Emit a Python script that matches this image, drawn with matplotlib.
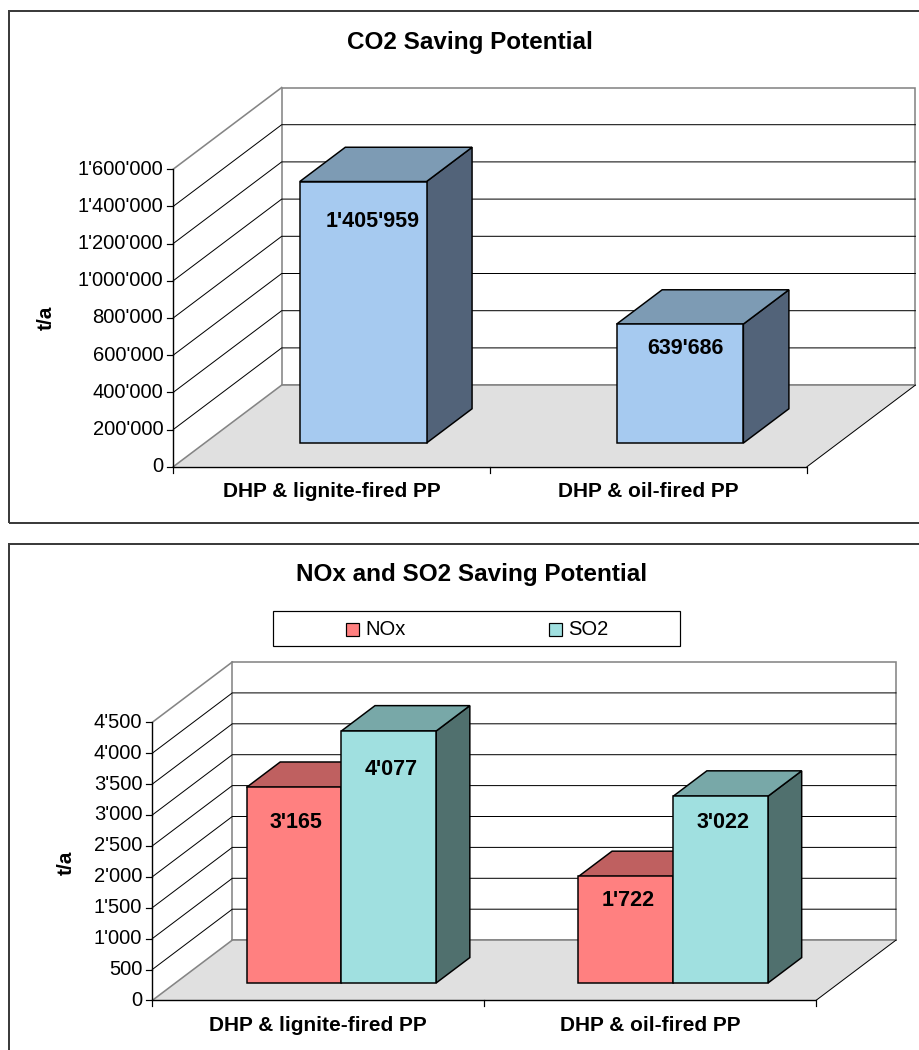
import matplotlib
matplotlib.use("Agg")
import matplotlib.pyplot as plt
from matplotlib.patches import Polygon, Rectangle

plt.rcParams['font.family'] = ['Liberation Sans', 'DejaVu Sans']

W, H = 920, 1050

# ---- data ----
categories = ["DHP & lignite-fired PP", "DHP & oil-fired PP"]
co2_values = [1405959, 639686]
nox_values = [3165, 1722]
so2_values = [4077, 3022]
pollutant_names = ["NOx", "SO2"]
co2_ticks = list(range(0, 1_600_001, 200_000))
pollutant_ticks = list(range(0, 4_501, 500))

# ---- styling ----
CO2_FACES = [("#A6CAF0", "#7D9BB4", "#526379")]
POLL_FACES = [("#FF8080", "#BF6060", "#8C4A4A"),
              ("#A0E0E0", "#78A8A8", "#50706E")]
WALL_EDGE = "#858585"
FLOOR = "#E0E0E0"
PX = 0.72  # points per pixel at dpi 100


def fmt(v):
    return f"{v:,}".replace(",", "'")


fig = plt.figure(figsize=(W / 100, H / 100), dpi=100)


def fig_xy(px, py):
    return px / W, 1 - py / H


def make_axes(box, front_left, front_right, zero_y, px_per_unit, ncat):
    left, top, right, bottom = box
    ax = fig.add_axes([left / W, 1 - bottom / H, (right - left) / W, (bottom - top) / H])
    sx = (front_right - front_left) / ncat
    ax.set_xlim((left - front_left) / sx, (right - front_left) / sx)
    ax.set_ylim((zero_y - bottom) / px_per_unit, (zero_y - top) / px_per_unit)
    ax.axis('off')
    ax.set_zorder(2)
    return ax, sx


def draw_chart(ax, sx, ppu, depth_px, ticks, series, faces, drops, label_dx):
    ncat = len(categories)
    ddx = depth_px[0] / sx
    ddy = depth_px[1] / ppu
    ymax = ticks[-1]

    # back wall and floor
    ax.add_patch(Polygon([(ddx, ddy), (ncat + ddx, ddy), (ncat + ddx, ymax + ddy), (ddx, ymax + ddy)],
                         closed=True, facecolor="white", edgecolor=WALL_EDGE, lw=1.6 * PX, zorder=1))
    ax.add_patch(Polygon([(0, 0), (ncat, 0), (ncat + ddx, ddy), (ddx, ddy)],
                         closed=True, facecolor=FLOOR, edgecolor="none", zorder=1))
    ax.plot([0, ddx], [0, ddy], color=WALL_EDGE, lw=1.6 * PX, zorder=2)
    ax.plot([ddx, ncat + ddx], [ddy, ddy], color=WALL_EDGE, lw=1.6 * PX, zorder=2)
    ax.plot([ncat, ncat + ddx], [0, ddy], color="black", lw=1.0 * PX, zorder=2)
    ax.plot([0, ddx], [ymax, ymax + ddy], color=WALL_EDGE, lw=1.6 * PX, zorder=2)

    # gridlines along side and back walls
    for v in ticks[1:-1]:
        ax.plot([0, ddx, ncat + ddx], [v, v + ddy, v + ddy], color="black", lw=1.0 * PX, zorder=2)

    # axes lines and ticks
    ax.plot([0, 0], [0, ymax], color="black", lw=1.4 * PX, zorder=3, solid_capstyle='butt')
    ax.plot([0, ncat], [0, 0], color="black", lw=1.4 * PX, zorder=3, solid_capstyle='butt')
    tick_len_x = 6 / sx
    tick_len_y = 6 / ppu
    for v in ticks:
        ax.plot([-tick_len_x, 0], [v, v], color="black", lw=1.2 * PX, zorder=3)
        ax.annotate(fmt(v), (0, v), xytext=(-10 * PX, 0), textcoords='offset points',
                    ha='right', va='center', fontsize=14.5, zorder=4)
    for i in range(ncat + 1):
        ax.plot([i, i], [0, -tick_len_y], color="black", lw=1.2 * PX, zorder=3)
    for i, cat in enumerate(categories):
        ax.annotate(cat, (i + 0.5, 0), xytext=(0, -25 * PX), textcoords='offset points',
                    ha='center', va='center', fontsize=15, fontweight='bold', zorder=4)

    # bars
    n = len(series)
    gap = 1.5
    w = 1 / (n + gap)
    f0, f1 = 0.29, 0.71
    dz = f1 - f0
    z = 10
    for i in range(ncat):
        for j in range(n):
            v = series[j][i]
            front, top, side = faces[j]
            xl = i + 0.5 - n * w / 2 + j * w + f0 * ddx
            yb = f0 * ddy
            ox, oy = dz * ddx, dz * ddy
            kw = dict(closed=True, edgecolor="black", lw=1.5 * PX, joinstyle='miter')
            ax.add_patch(Polygon([(xl + w, yb), (xl + w + ox, yb + oy), (xl + w + ox, yb + v + oy), (xl + w, yb + v)],
                                 facecolor=side, zorder=z, **kw))
            ax.add_patch(Polygon([(xl, yb + v), (xl + w, yb + v), (xl + w + ox, yb + v + oy), (xl + ox, yb + v + oy)],
                                 facecolor=top, zorder=z, **kw))
            ax.add_patch(Polygon([(xl, yb), (xl + w, yb), (xl + w, yb + v), (xl, yb + v)],
                                 facecolor=front, zorder=z + 1, **kw))
            z += 2
    for i in range(ncat):
        for j in range(n):
            v = series[j][i]
            xl = i + 0.5 - n * w / 2 + j * w + f0 * ddx
            ax.annotate(fmt(v), (xl + w / 2, f0 * ddy + v), xytext=(label_dx[j][i] * PX, -drops[j][i] * PX),
                        textcoords='offset points', ha='center', va='center',
                        fontsize=15.5, fontweight='bold', zorder=100)


# ---- chart frames ----
for (l, t, r, b) in [(9, 11, 940, 523), (9, 544, 940, 1070)]:
    x0, y0 = fig_xy(l, b)
    x1, y1 = fig_xy(r, t)
    fig.patches.append(Rectangle((x0, y0), x1 - x0, y1 - y0, transform=fig.transFigure,
                                 facecolor="none", edgecolor="#3C3C3C", lw=2.0 * PX, zorder=1))

# ---- CO2 chart ----
ax1, sx1 = make_axes((10, 12, 920, 522), 173.3, 807.0, 466.7, 37.2 / 200_000, len(categories))
draw_chart(ax1, sx1, 37.2 / 200_000, (108.4, 81.6), co2_ticks, [co2_values], CO2_FACES,
           drops=[[40, 24]], label_dx=[[9, 5]])
fig.text(*fig_xy(470, 43), "CO2 Saving Potential", ha='center', va='center',
         fontsize=17.5, fontweight='bold')
fig.text(*fig_xy(46, 318), "t/a", ha='center', va='center', rotation=90,
         fontsize=15, fontweight='bold')

# ---- NOx / SO2 chart ----
ax2, sx2 = make_axes((10, 545, 920, 1049), 152.3, 816.0, 1000.4, 30.9 / 500, len(categories))
draw_chart(ax2, sx2, 30.9 / 500, (80.0, 60.3), pollutant_ticks, [nox_values, so2_values], POLL_FACES,
           drops=[[35, 24], [39, 26]], label_dx=[[2, 2], [2, 2]])
fig.text(*fig_xy(472, 575), "NOx and SO2 Saving Potential", ha='center', va='center',
         fontsize=17.5, fontweight='bold')
fig.text(*fig_xy(66, 863), "t/a", ha='center', va='center', rotation=90,
         fontsize=15, fontweight='bold')

# legend box
lx0, ly0 = fig_xy(273, 646)
lx1, ly1 = fig_xy(680, 611)
fig.patches.append(Rectangle((lx0, ly0), lx1 - lx0, ly1 - ly0, transform=fig.transFigure,
                             facecolor="white", edgecolor="black", lw=1.2 * PX, zorder=5))
for name, faces, sw_x in zip(pollutant_names, POLL_FACES, [346, 549]):
    sx0, sy0 = fig_xy(sw_x, 636)
    sx_1, sy_1 = fig_xy(sw_x + 13, 623)
    fig.patches.append(Rectangle((sx0, sy0), sx_1 - sx0, sy_1 - sy0, transform=fig.transFigure,
                                 facecolor=faces[0], edgecolor="black", lw=1.2 * PX, zorder=6))
    fig.text(*fig_xy(sw_x + 19, 629.5), name, ha='left', va='center', fontsize=14.5, zorder=7)

fig.savefig("out.png", dpi=100, facecolor="white")
